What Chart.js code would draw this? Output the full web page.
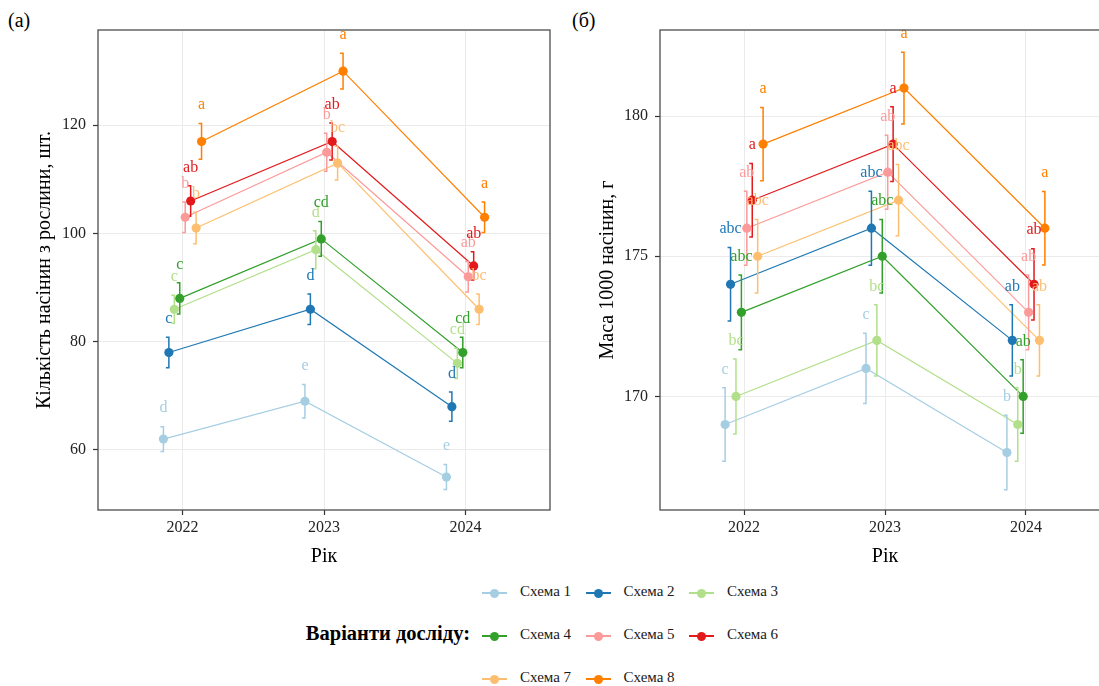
<!DOCTYPE html>
<html>
<head>
<meta charset="utf-8">
<script src="https://cdn.jsdelivr.net/npm/chart.js@4.4.1/dist/chart.umd.min.js"></script>
<style>
  html, body { margin: 0; padding: 0; background: #fff; }
  #page { position: relative; width: 1099px; height: 686px; overflow: hidden; font-family: "Liberation Serif", "DejaVu Serif", serif; }
  canvas { position: absolute; top: 0; }
  .tag { position: absolute; font-size: 20px; color: #000; }
  .leg { position: absolute; font-size: 15px; color: #1a1a1a; white-space: nowrap; }
  .sym { position: absolute; width: 25px; height: 2px; }
  .dot { position: absolute; width: 9px; height: 9px; border-radius: 50%; left: 8px; top: -3.5px; }
</style>
</head>
<body>
<div id="page">
  <div class="tag" style="left:8px; top:9px;">(a)</div>
  <div class="tag" style="left:572px; top:9px;">(б)</div>
  <canvas id="chartA" width="560" height="580" style="left:0;"></canvas>
  <canvas id="chartB" width="560" height="580" style="left:560px;"></canvas>
  <div id="legend"></div>
</div>
<script>
const years = [2022, 2023, 2024];
const schemes = ["Схема 1", "Схема 2", "Схема 3", "Схема 4", "Схема 5", "Схема 6", "Схема 7", "Схема 8"];
const palette = ["#A6CEE3", "#1F78B4", "#B2DF8A", "#33A02C", "#FB9A99", "#E31A1C", "#FDBF6F", "#FF7F00"];

// (a) Кількість насінин з рослини, шт.
const seedsMean = [
  [62, 69, 55], [78, 86, 68], [86, 97, 76], [88, 99, 78],
  [103, 115, 92], [106, 117, 94], [101, 113, 86], [117, 130, 103]
];
const seedsErr = [
  [2.3, 3.1, 2.3], [2.8, 2.8, 2.7], [2.6, 3.5, 2.8], [2.9, 3.2, 2.8],
  [2.8, 3.5, 2.8], [2.8, 3.4, 2.6], [2.9, 3.1, 2.8], [3.3, 3.3, 2.8]
];
const seedsLetters = [
  ["d", "e", "e"], ["c", "d", "d"], ["c", "d", "cd"], ["c", "cd", "cd"],
  ["b", "b", "ab"], ["ab", "ab", "ab"], ["b", "bc", "bc"], ["a", "a", "a"]
];
const seedsTicks = [60, 80, 100, 120];

// (б) Маса 1000 насінин, г
const massMean = [
  [169, 171, 168], [174, 176, 172], [170, 172, 169], [173, 175, 170],
  [176, 178, 173], [177, 179, 174], [175, 177, 172], [179, 181, 176]
];
const massErr = [
  [1.31, 1.25, 1.33], [1.31, 1.32, 1.27], [1.34, 1.27, 1.31], [1.33, 1.31, 1.31],
  [1.32, 1.32, 1.33], [1.31, 1.33, 1.27], [1.31, 1.27, 1.27], [1.31, 1.28, 1.31]
];
const massLetters = [
  ["c", "c", "b"], ["abc", "abc", "ab"], ["bc", "bc", "b"], ["abc", "abc", "ab"],
  ["ab", "ab", "ab"], ["a", "a", "ab"], ["abc", "abc", "ab"], ["a", "a", "a"]
];
const massTicks = [170, 175, 180];

const serif = '"Liberation Serif", "DejaVu Serif", serif';
const dodge = 0.0385;
const offsetOf = i => (i - (schemes.length - 1) / 2) * dodge;

// error bars, letters and the panel border
const extras = {
  id: "extras",
  beforeDatasetDraw(chart, args, opts) {
    if (args.index !== schemes.length) return;
    const ctx = chart.ctx, xs = chart.scales.x, ys = chart.scales.y;
    ctx.save();
    ctx.lineWidth = 1.5;
    opts.means.forEach((row, i) => {
      ctx.strokeStyle = palette[i];
      row.forEach((m, j) => {
        const x = xs.getPixelForValue(years[j] + offsetOf(i));
        const y1 = ys.getPixelForValue(m + opts.errs[i][j]);
        const y2 = ys.getPixelForValue(m - opts.errs[i][j]);
        ctx.beginPath();
        ctx.moveTo(x - 3, y1); ctx.lineTo(x, y1);
        ctx.lineTo(x, y2); ctx.lineTo(x - 3, y2);
        ctx.stroke();
      });
    });
    ctx.restore();
  },
  afterDatasetsDraw(chart, args, opts) {
    const ctx = chart.ctx, xs = chart.scales.x, ys = chart.scales.y;
    ctx.save();
    ctx.font = "16px " + serif;
    ctx.textAlign = "center";
    ctx.textBaseline = "middle";
    opts.means.forEach((row, i) => {
      ctx.fillStyle = palette[i];
      row.forEach((m, j) => {
        const x = xs.getPixelForValue(years[j] + offsetOf(i));
        const y = ys.getPixelForValue(m + opts.errs[i][j]) - 18.4;
        ctx.fillText(opts.letters[i][j], x, y);
      });
    });
    ctx.restore();
  },
  afterDraw(chart) {
    const a = chart.chartArea, ctx = chart.ctx;
    ctx.save();
    ctx.strokeStyle = "#4d4d4d";
    ctx.lineWidth = 1.3;
    ctx.strokeRect(a.left, a.top, a.right - a.left, a.bottom - a.top);
    ctx.restore();
  }
};

function makePanel(id, means, errs, letters, yMin, yMax, yTicks, yTitle, yAxisW, titlePad) {
  const lines = means.map((row, i) => ({
    label: schemes[i],
    data: row.map((v, j) => ({ x: years[j] + offsetOf(i), y: v })),
    borderColor: palette[i],
    borderWidth: 1.2,
    pointRadius: 0,
    tension: 0,
    order: 100 + (schemes.length - 1 - i)
  }));
  const points = means.map((row, i) => ({
    label: schemes[i],
    data: row.map((v, j) => ({ x: years[j] + offsetOf(i), y: v })),
    showLine: false,
    backgroundColor: palette[i],
    borderWidth: 0,
    pointRadius: 4.6,
    order: schemes.length - 1 - i
  }));

  return new Chart(document.getElementById(id), {
    type: "line",
    data: { datasets: lines.concat(points) },
    plugins: [extras],
    options: {
      responsive: false,
      devicePixelRatio: 1,
      animation: false,
      events: [],
      layout: { padding: { top: 30, right: 10, left: 0, bottom: 0 }, autoPadding: false },
      plugins: {
        legend: { display: false },
        tooltip: { enabled: false },
        extras: { means: means, errs: errs, letters: letters }
      },
      scales: {
        x: {
          type: "linear",
          min: 2021.403,
          max: 2024.597,
          afterBuildTicks: s => { s.ticks = years.map(v => ({ value: v })); },
          afterFit: s => { s.height = 70; },
          grid: { color: "#ebebeb", tickColor: "#333", tickLength: 5, tickWidth: 1.2 },
          border: { display: false },
          ticks: { color: "#222", font: { family: serif, size: 16 }, padding: 3, maxRotation: 0, callback: v => String(v) },
          title: { display: true, text: "Рік", color: "#000", font: { family: serif, size: 20 }, padding: { bottom: 11 } }
        },
        y: {
          min: yMin,
          max: yMax,
          afterBuildTicks: s => { s.ticks = yTicks.map(v => ({ value: v })); },
          afterFit: s => { s.width = yAxisW; },
          grid: { color: "#ebebeb", tickColor: "#333", tickLength: 5, tickWidth: 1.2 },
          border: { display: false },
          ticks: { color: "#222", font: { family: serif, size: 16 }, padding: 7, callback: v => String(v) },
          title: { display: true, text: yTitle, color: "#000", font: { family: serif, size: 20 }, padding: { top: titlePad } }
        }
      }
    }
  });
}

makePanel("chartA", seedsMean, seedsErr, seedsLetters, 48.9, 137.6, seedsTicks,
  "Кількість насінин з рослини, шт.", 98, 33);
makePanel("chartB", massMean, massErr, massLetters, 165.95, 183.07, massTicks,
  "Маса 1000 насінин, г", 100, 36);

// shared legend
const legend = document.getElementById("legend");
const title = document.createElement("div");
title.className = "leg";
title.style.cssText = "left:0; width:470px; text-align:right; top:622px; font-size:20.5px; font-weight:bold; color:#000;";
title.textContent = "Варіанти досліду:";
legend.appendChild(title);
schemes.forEach((name, i) => {
  const col = i % 3, row = Math.floor(i / 3);
  const left = 482 + col * 103.5, cy = 593 + row * 43;
  const sym = document.createElement("div");
  sym.className = "sym";
  sym.style.cssText = `left:${left}px; top:${cy - 1}px; background:${palette[i]};`;
  const dot = document.createElement("div");
  dot.className = "dot";
  dot.style.background = palette[i];
  sym.appendChild(dot);
  legend.appendChild(sym);
  const txt = document.createElement("div");
  txt.className = "leg";
  txt.style.cssText = `left:${left + 38}px; top:${cy - 10}px;`;
  txt.textContent = name;
  legend.appendChild(txt);
});
</script>
</body>
</html>
